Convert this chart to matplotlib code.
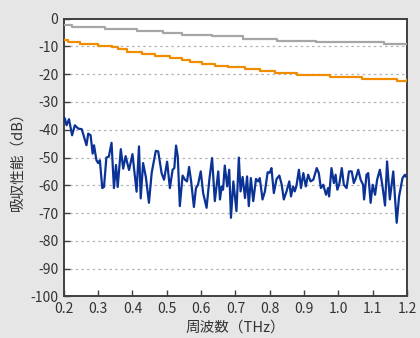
import matplotlib
matplotlib.use("Agg")
import matplotlib.pyplot as plt
import numpy as np

plt.rcParams['font.family'] = ['Noto Sans CJK JP', 'DejaVu Sans']
plt.rcParams['axes.unicode_minus'] = False

# upper gray curve (stepped)
gray_f = [0.200, 0.223, 0.320, 0.413, 0.489, 0.544, 0.631, 0.722, 0.821, 0.935, 1.133, 1.200]
gray_db = [-2.2, -2.9, -3.7, -4.4, -5.2, -5.9, -6.3, -7.2, -8.0, -8.6, -9.2, -9.2]

# orange curve (stepped)
orange_f = [0.200, 0.212, 0.247, 0.299, 0.340, 0.357, 0.384, 0.427, 0.465, 0.509, 0.544,
            0.567, 0.602, 0.640, 0.678, 0.728, 0.771, 0.815, 0.879, 0.976, 1.054,
            1.069, 1.171, 1.200]
orange_db = [-7.7, -8.5, -9.1, -9.8, -10.4, -10.8, -11.9, -12.7, -13.5, -14.2, -14.9,
             -15.8, -16.4, -17.0, -17.6, -18.3, -19.0, -19.6, -20.4, -21.2, -21.2,
             -21.9, -22.5, -22.0]

# blue measured curve
blue_f = [0.200, 0.203, 0.208, 0.215, 0.224, 0.232, 0.242, 0.252, 0.256, 0.266, 0.271,
          0.278, 0.284, 0.288, 0.295, 0.300, 0.305, 0.312, 0.317, 0.324, 0.331, 0.339,
          0.346, 0.352, 0.357, 0.366, 0.373, 0.380, 0.390, 0.400, 0.412, 0.419, 0.424,
          0.431, 0.439, 0.448, 0.456, 0.468, 0.475, 0.485, 0.492, 0.501, 0.509, 0.517,
          0.522, 0.527, 0.532, 0.538, 0.546, 0.553, 0.559, 0.565, 0.571, 0.579, 0.585,
          0.591, 0.599, 0.606, 0.616, 0.624, 0.632, 0.640, 0.650, 0.655, 0.660, 0.664,
          0.669, 0.676, 0.682, 0.687, 0.694, 0.703, 0.710, 0.715, 0.721, 0.728, 0.734,
          0.739, 0.745, 0.752, 0.760, 0.766, 0.771, 0.779, 0.786, 0.794, 0.800, 0.805,
          0.812, 0.820, 0.828, 0.835, 0.841, 0.849, 0.857, 0.862, 0.868, 0.873, 0.878,
          0.885, 0.891, 0.898, 0.905, 0.912, 0.919, 0.927, 0.937, 0.943, 0.949, 0.956,
          0.964, 0.970, 0.973, 0.980, 0.987, 0.992, 0.997, 1.003, 1.010, 1.016, 1.024,
          1.031, 1.039, 1.045, 1.051, 1.058, 1.065, 1.072, 1.075, 1.082, 1.087, 1.094,
          1.100, 1.107, 1.113, 1.121, 1.128, 1.136, 1.142, 1.150, 1.160, 1.170, 1.177,
          1.187, 1.194, 1.197]
blue_db = [-35.5, -36.0, -38.4, -36.2, -42.0, -38.4, -39.6, -39.8, -41.4, -45.6, -41.4,
           -42.0, -48.6, -45.6, -51.0, -52.0, -51.0, -61.0, -60.6, -50.0, -49.7, -44.7,
           -61.0, -52.7, -60.6, -47.0, -54.0, -49.5, -54.5, -48.8, -62.3, -46.0, -64.7,
           -52.0, -57.0, -66.3, -55.5, -47.6, -47.8, -55.7, -58.0, -51.5, -61.0, -54.4,
           -53.8, -45.7, -49.6, -67.5, -56.5, -58.0, -58.6, -53.4, -58.6, -67.8, -61.0,
           -59.8, -55.0, -62.8, -68.1, -58.0, -50.2, -65.7, -55.0, -65.1, -60.4, -61.6,
           -52.9, -60.4, -54.4, -71.7, -58.6, -69.3, -50.0, -62.2, -57.0, -64.6, -56.8,
           -67.5, -57.4, -65.7, -57.7, -58.6, -57.4, -65.1, -62.2, -55.3, -55.5, -53.8,
           -62.8, -57.7, -56.5, -59.8, -65.1, -62.2, -58.6, -64.0, -60.4, -62.2, -60.1,
           -54.4, -61.0, -55.6, -60.4, -56.2, -58.6, -58.0, -53.8, -55.6, -61.0, -59.8,
           -63.4, -61.0, -64.0, -53.8, -59.2, -56.2, -61.6, -59.4, -53.8, -59.8, -61.0,
           -55.0, -55.0, -59.2, -57.4, -54.4, -58.0, -59.8, -65.1, -56.2, -55.6, -66.3,
           -59.8, -63.4, -58.0, -54.4, -59.8, -67.3, -51.4, -65.1, -55.0, -73.5, -64.0,
           -57.4, -56.2, -56.8]

x_ticks = [0.2, 0.3, 0.4, 0.5, 0.6, 0.7, 0.8, 0.9, 1.0, 1.1, 1.2]
y_ticks = [0, -10, -20, -30, -40, -50, -60, -70, -80, -90, -100]

fig = plt.figure(figsize=(4.2, 3.38), dpi=100, facecolor='#e6e6e6')
ax = fig.add_axes([0.152, 0.123, 0.817, 0.822])
ax.set_facecolor('white')

for yv in y_ticks[1:-1]:
    ax.axhline(yv, color='#b4b4b4', lw=0.9, ls=(0, (2, 2.5)), zorder=1)

ax.step(gray_f, gray_db, where='post', color='#a6a6a6', lw=1.6, zorder=3)
ax.step(orange_f, orange_db, where='post', color='#f08c00', lw=1.6, zorder=3)
ax.plot(blue_f, blue_db, color='#0b3396', lw=1.6, zorder=4)

ax.set_xlim(0.2, 1.2)
ax.set_ylim(-100, 0)
ax.set_xticks(x_ticks)
ax.set_xticklabels([f"{v:.1f}" for v in x_ticks])
ax.set_yticks(y_ticks)
ax.set_yticklabels([str(v) for v in y_ticks])
ax.tick_params(direction='in', length=4, width=1, color='#404040',
               labelsize=10, labelcolor='#333333', pad=4)

for s in ax.spines.values():
    s.set_color('#404040')
    s.set_linewidth(1.4)

ax.set_xlabel('周波数（THz）', fontsize=10.5, color='#333333', labelpad=3)
ax.set_ylabel('吸収性能（dB）', fontsize=10.5, color='#333333', labelpad=4)

fig.savefig('out.png', dpi=100, facecolor=fig.get_facecolor())
